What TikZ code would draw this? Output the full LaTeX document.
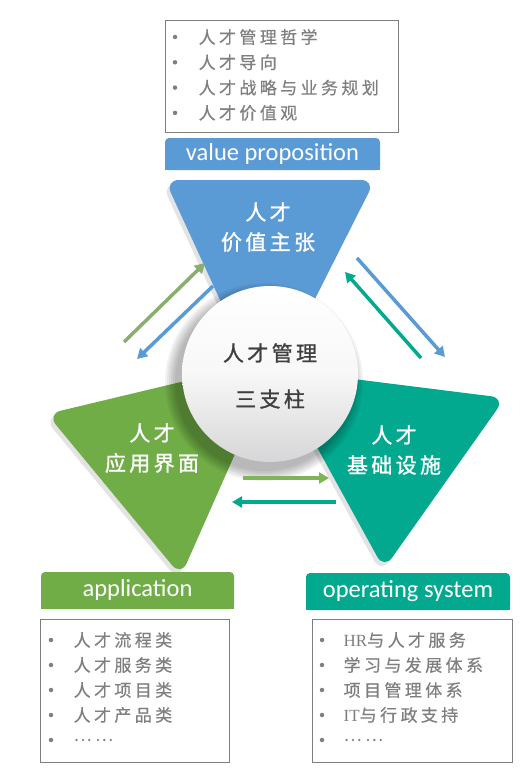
\documentclass[tikz,border=0pt]{standalone}
\usepackage{fontspec}
\setmainfont{Liberation Serif}
\newfontfamily\listcjk[LetterSpace=20, FakeBold=0.4]{Noto Sans CJK SC}
\newfontfamily\bigcjk[LetterSpace=16, FakeBold=1.2]{Noto Sans CJK SC}
\newfontfamily\tagfont{Carlito}
\usetikzlibrary{positioning,arrows.meta,shadows}

\definecolor{vpblue}{HTML}{5B9BD5}
\definecolor{apgreen}{HTML}{70AD47}
\definecolor{osteal}{HTML}{02A98F}
\definecolor{itemgray}{HTML}{7F7F7F}
\definecolor{hubgray}{HTML}{3F3F3F}
\definecolor{fadegreen}{HTML}{88AE70}

\newcommand{\lat}[1]{{\rmfamily #1}}

\tikzset{
	listbox/.style={draw=itemgray, line width=0.9pt, inner sep=0},
	bulletdot/.style={circle, fill=itemgray, inner sep=0, minimum size=4.5pt},
	listitem/.style={anchor=west, inner sep=0, text=itemgray, font=\listcjk\fontsize{17}{20}\selectfont},
	tagbox/.style={fill=#1, rounded corners=4pt, inner sep=0, text=white, text height=17pt, text depth=5pt, font=\tagfont\fontsize{24.5}{28}\selectfont},
	tribox/.style={fill=#1, rounded corners=14pt, drop shadow={opacity=0.22, shadow xshift=-3pt, shadow yshift=-4pt}},
	tritext/.style={align=center, text=white, font=\bigcjk\fontsize{21}{30}\selectfont},
	flow/.style={draw=#1, line width=3.5pt, -{Triangle[length=10pt, width=11pt]}}
}

\begin{document}
\begin{tikzpicture}[x=1pt, y=-1pt]
	\useasboundingbox (0,0) rectangle (529,776);
	\fill[white] (0,0) rectangle (529,776);

	% the three pillars
	\path[tribox=vpblue] (165,180) -- (375,180) -- (265,398) -- cycle;
	\path[tribox=apgreen] (47,414) -- (277,359) -- (181,576) -- cycle;
	\path[tribox=osteal] (274,369) -- (505,398) -- (384,569) -- cycle;

	\node[tritext] (vp-text) at (268,227) {人才\\价值主张};
	\node[tritext] (ap-text) at (152,448) {人才\\应用界面};
	\node[tritext] (os-text) at (394,450) {人才\\基础设施};

	% hub
	\foreach \r in {1,3,...,11}
		\fill[black, opacity=0.05] (264,382) circle [radius={(88+\r)*1pt}];
	\node[circle, minimum size=176pt, inner sep=0, top color=white, bottom color=black!16, middle color=white!97!black] (hub) at (270,374) {};
	\node[align=center, text=hubgray, font=\bigcjk\fontsize{21}{25}\selectfont] (hub-text) at (270,376) {人才管理\\[21pt]三支柱};

	% flows between the pillars
	\coordinate (ap-up-s) at (124,342);
	\coordinate (ap-up-e) at (205,263);
	\coordinate (vp-dn-s) at (213,286);
	\coordinate (vp-dn-e) at (137,359);
	\coordinate (vp-rt-s) at (357,258);
	\coordinate (vp-rt-e) at (445,357);
	\coordinate (os-up-s) at (421,358);
	\coordinate (os-up-e) at (345,272);
	\coordinate (ap-rt-s) at (243,478);
	\coordinate (ap-rt-e) at (329,478);
	\coordinate (os-lt-s) at (336,502);
	\coordinate (os-lt-e) at (232,502);
	\draw[flow=fadegreen] (ap-up-s) -- (ap-up-e);
	\draw[flow=vpblue] (vp-dn-s) -- (vp-dn-e);
	\draw[flow=vpblue] (vp-rt-s) -- (vp-rt-e);
	\draw[flow=osteal] (os-up-s) -- (os-up-e);
	\draw[flow=apgreen!90!white] (ap-rt-s) -- (ap-rt-e);
	\draw[flow=osteal] (os-lt-s) -- (os-lt-e);

	% tags
	\fill[vpblue] (165,154) rectangle (380,170);
	\node[tagbox=vpblue, minimum width=215pt, minimum height=32pt] (vp-tag) at (272.5,154) {value proposition};
	\fill[apgreen] (41,590) rectangle (234,609);
	\node[tagbox=apgreen, minimum width=193pt, minimum height=37pt] (ap-tag) at (137.5,590.5) {application};
	\fill[osteal] (306,591) rectangle (510,610);
	\node[tagbox=osteal, minimum width=204pt, minimum height=37pt] (os-tag) at (408,591.5) {operating system};

	% lists
	\node[listbox, minimum width=233pt, minimum height=112pt] (vp-box) at (281.5,76) {};
	\foreach \t [count=\i] in {人才管理哲学, 人才导向, 人才战略与业务规划, 人才价值观}{
		\node[bulletdot] (vp-dot-\i) at (175,{11.7+25.3*\i}) {};
		\node[listitem, right=21pt of vp-dot-\i] (vp-item-\i) {\t};
	}

	\node[listbox, minimum width=189pt, minimum height=143pt] (ap-box) at (134.5,690.5) {};
	\foreach \t [count=\i] in {人才流程类, 人才服务类, 人才项目类, 人才产品类, ……}{
		\node[bulletdot] (ap-dot-\i) at (51,{615+25*\i}) {};
		\node[listitem, right=20pt of ap-dot-\i] (ap-item-\i) {\t};
	}

	\node[listbox, minimum width=200pt, minimum height=143pt] (os-box) at (412,690.5) {};
	\foreach \t [count=\i] in {{\lat{HR}与人才服务}, 学习与发展体系, 项目管理体系, {\lat{IT}与行政支持}, ……}{
		\node[bulletdot] (os-dot-\i) at (322,{615+25*\i}) {};
		\node[listitem, right=19pt of os-dot-\i] (os-item-\i) {\t};
	}
\end{tikzpicture}
\end{document}
